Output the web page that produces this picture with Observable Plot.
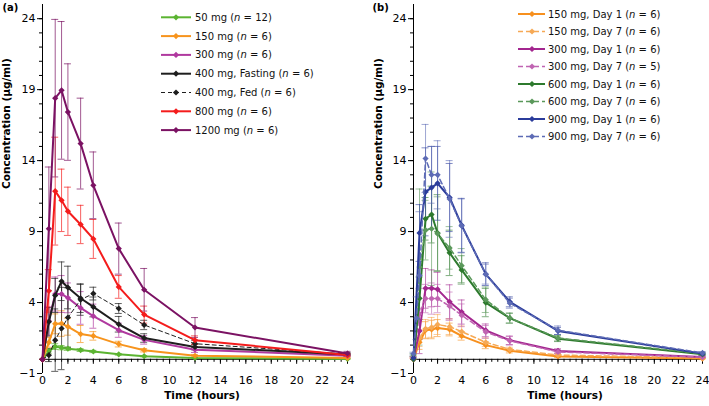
<!DOCTYPE html>
<html><head><meta charset="utf-8">
<script src="https://cdn.jsdelivr.net/npm/d3@7"></script>
<script src="https://cdn.jsdelivr.net/npm/@observablehq/plot@0.6"></script>
<style>
body{margin:0;background:#fff;font-family:"DejaVu Sans",Verdana,sans-serif;}
#wrap{display:flex;width:709px;height:406px;}
.panel{position:relative;}
.legend{position:absolute;left:0;top:0;pointer-events:none;}
</style></head><body>
<div id="wrap"><div class="panel" id="pa"></div><div class="panel" id="pb"></div></div>
<script>
// ---------- Panel (a) data ----------
const timesA = [0, 0.5, 1, 1.5, 2, 3, 4, 6, 8, 12, 24];
const dosesA = ["50 mg", "150 mg", "300 mg", "400 mg, Fasting", "400 mg, Fed", "800 mg", "1200 mg"];
const nA = [12, 6, 6, 6, 6, 6, 6];
const colorsA = ["#5bb431", "#f7941d", "#b0399f", "#1e1e1e", "#1e1e1e", "#f41c1c", "#7b1263"];
const dashA = [false, false, false, false, true, false, false];
const meanA_50 = [0, 0.58, 0.9, 0.82, 0.75, 0.65, 0.55, 0.35, 0.22, 0.1, 0.03];
const sdA_50 = [0, 0.15, 0.2, 0.15, 0.12, 0.1, 0.08, 0.06, 0.05, 0.03, 0.02];
const meanA_150 = [0, 1.2, 2.5, 2.52, 2.3, 1.78, 1.65, 1.07, 0.64, 0.25, 0.1];
const sdA_150 = [0, 0.35, 0.7, 0.9, 0.6, 0.6, 0.3, 0.2, 0.12, 0.08, 0.04];
const meanA_300 = [0, 2.7, 4.6, 4.6, 4.33, 3.62, 3.04, 2.05, 1.37, 0.68, 0.25];
const sdA_300 = [0, 1.0, 1.2, 1.3, 1.05, 1.15, 0.85, 0.5, 0.3, 0.2, 0.1];
const meanA_400fast = [0, 2.64, 4.5, 5.5, 5.06, 4.3, 3.69, 2.47, 1.5, 0.87, 0.34];
const sdA_400fast = [0, 1.0, 1.2, 1.36, 1.5, 1.0, 0.7, 0.55, 0.3, 0.2, 0.1];
const meanA_400fed = [0, 0.29, 1.35, 2.17, 2.94, 4.2, 4.63, 3.58, 2.42, 1.1, 0.36];
const sdA_400fed = [0, 0.45, 2.2, 2.9, 2.1, 1.1, 0.45, 0.35, 0.33, 0.25, 0.1];
const meanA_800 = [0, 4.82, 11.85, 11.2, 10.43, 9.5, 8.48, 5.1, 3.15, 1.35, 0.3];
const sdA_800 = [0, 1.5, 3.8, 2.2, 1.7, 1.35, 1.37, 0.8, 0.6, 0.3, 0.1];
const meanA_1200 = [0, 9.2, 18.4, 18.95, 17.42, 15.2, 12.26, 7.8, 4.9, 2.24, 0.41];
const sdA_1200 = [0, 4.35, 5.55, 4.85, 3.4, 3.2, 2.35, 1.8, 1.5, 0.7, 0.15];
const meansA = [meanA_50, meanA_150, meanA_300, meanA_400fast, meanA_400fed, meanA_800, meanA_1200];
const sdsA = [sdA_50, sdA_150, sdA_300, sdA_400fast, sdA_400fed, sdA_800, sdA_1200];

// ---------- Panel (b) data ----------
const timesB = [0, 0.25, 0.5, 1, 1.5, 2, 3, 4, 6, 8, 12, 24];
const dosesB = ["150 mg, Day 1", "150 mg, Day 7", "300 mg, Day 1", "300 mg, Day 7", "600 mg, Day 1", "600 mg, Day 7", "900 mg, Day 1", "900 mg, Day 7"];
const nB = [6, 6, 6, 5, 6, 6, 6, 6];
const colorsB = ["#f7901e", "#f6a955", "#a3268f", "#c064b2", "#2d7a2d", "#5a985a", "#2b3c9b", "#5d6bb5"];
const dashB = [false, true, false, true, false, true, false, true];
const meanB_150d1 = [0, null, 1.2, 2.05, 2.1, 2.2, 2.1, 1.65, 1.0, 0.6, 0.2, 0.05];
const meanB_150d7 = [0.1, null, 1.5, 2.15, 2.25, 2.45, 2.3, 1.95, 1.2, 0.7, 0.3, 0.1];
const meanB_300d1 = [0, null, 2.0, 5.0, 5.0, 4.93, 4.05, 3.33, 2.04, 1.34, 0.59, 0.17];
const meanB_300d7 = [0.15, null, 3.2, 4.28, 4.28, 4.28, 3.74, 3.1, 1.93, 1.3, 0.52, 0.15];
const meanB_600d1 = [0, null, 4.3, 9.9, 10.2, 8.9, 7.5, 6.3, 4.0, 2.9, 1.45, 0.35];
const meanB_600d7 = [0.3, null, 6.5, 9.1, 9.2, 8.85, 7.85, 6.6, 4.2, 2.9, 1.5, 0.4];
const meanB_900d1 = [0.1, null, 8.9, 11.8, 12.1, 12.4, 11.4, 9.44, 6.0, 4.05, 2.0, 0.4];
const meanB_900d7 = [0.4, 2.9, 5.9, 14.15, 13.0, 13.0, 11.3, 9.4, 6.0, 3.95, 2.05, 0.45];
const sdB_150d1 = [0, null, 0.5, 0.6, 0.65, 0.6, 0.45, 0.3, 0.25, 0.15, 0.08, 0.03];
const sdB_150d7 = [0.05, null, 0.6, 0.65, 0.7, 0.7, 0.55, 0.4, 0.3, 0.15, 0.1, 0.05];
const sdB_300d1 = [0, null, 1.6, 1.4, 1.3, 1.2, 1.2, 0.85, 0.45, 0.3, 0.15, 0.05];
const sdB_300d7 = [0.05, null, 1.8, 1.0, 1.1, 1.0, 1.0, 0.8, 0.45, 0.3, 0.15, 0.05];
const sdB_600d1 = [0, null, 1.5, 1.5, 2.0, 2.7, 1.6, 1.0, 1.0, 0.35, 0.2, 0.08];
const sdB_600d7 = [0.1, null, 5.5, 2.1, 4.0, 2.6, 1.5, 1.2, 0.9, 0.35, 0.2, 0.08];
const sdB_900d1 = [0, null, 2.0, 3.1, 2.9, 2.6, 2.4, 1.9, 0.8, 0.35, 0.25, 0.1];
const sdB_900d7 = [0.1, 1.5, 4.5, 2.4, 2.0, 2.4, 2.7, 1.9, 0.7, 0.35, 0.3, 0.1];
const meansB = [meanB_150d1, meanB_150d7, meanB_300d1, meanB_300d7, meanB_600d1, meanB_600d7, meanB_900d1, meanB_900d7];
const sdsB = [sdB_150d1, sdB_150d7, sdB_300d1, sdB_300d7, sdB_600d1, sdB_600d7, sdB_900d1, sdB_900d7];

// ---------- axis ticks ----------
const yMajor = [-1, 4, 9, 14, 19, 24];
const yMinor = d3.range(-1, 25, 1);
const xMajor = d3.range(0, 25, 2);
const xMinor = d3.range(0, 24.01, 0.5);

function makePanel(cfg) {
  const series = cfg.doses.map((dose, k) => ({
    k, dose, color: cfg.colors[k], dash: cfg.dash[k],
    rows: cfg.times.map((t, j) => ({t, v: cfg.means[k][j], sd: cfg.sds[k][j]})).filter(d => d.v != null)
  }));
  const marks = [
    Plot.ruleY([0], {stroke: "#000", strokeWidth: 1}),
    Plot.ruleX([0], {stroke: "#000", strokeWidth: 1}),
    Plot.axisY({ticks: yMinor, tickSize: 3, tickFormat: () => "", stroke: "#000"}),
    Plot.axisY({ticks: yMajor, tickSize: 5, tickPadding: 2, fontSize: 11, stroke: "#000", fill: "#000"}),
    Plot.ruleX(xMinor, {x: d => d, y1: 0, y2: 0, insetBottom: -3, stroke: "#000"}),
    Plot.ruleX(xMajor, {x: d => d, y1: 0, y2: 0, insetBottom: -5, stroke: "#000"}),
    Plot.axisX({ticks: xMajor, tickSize: 0, tickPadding: 3, fontSize: 11, fill: "#000"})
  ];
  for (const s of series) {
    const eb = s.rows.filter(d => d.sd > 0);
    marks.push(
      Plot.ruleX(eb, {x: "t", y1: d => d.v - d.sd, y2: d => d.v + d.sd, stroke: s.color, strokeOpacity: cfg.ebOpacity, strokeWidth: 1}),
      Plot.ruleY(eb, {y: d => d.v + d.sd, x1: "t", x2: "t", insetLeft: -3.5, insetRight: -3.5, stroke: s.color, strokeOpacity: cfg.ebOpacity}),
      Plot.ruleY(eb, {y: d => d.v - d.sd, x1: "t", x2: "t", insetLeft: -3.5, insetRight: -3.5, stroke: s.color, strokeOpacity: cfg.ebOpacity})
    );
  }
  for (const s of series) {
    marks.push(
      Plot.line(s.rows, {x: "t", y: "v", stroke: s.color,
        strokeWidth: s.dash ? cfg.dashWidth : 2, strokeDasharray: s.dash ? cfg.dashPattern : null}),
      Plot.dot(s.rows, {x: "t", y: "v", symbol: "diamond2", r: 2.8, fill: s.color, stroke: "none"})
    );
  }
  marks.push(
    Plot.text(["Concentration (µg/ml)"], {frameAnchor: "left", dx: cfg.yTitleDx, rotate: -90, fontWeight: "bold", fontSize: 10.5, fill: "#000"}),
    Plot.text(["Time (hours)"], {frameAnchor: "bottom", dy: 25, dx: 7, fontWeight: "bold", fontSize: 10.5, fill: "#000"}),
    Plot.text([cfg.letter], {frameAnchor: "top-left", dx: cfg.letterDx, dy: 3.5, lineAnchor: "middle", textAnchor: "start", fontWeight: "bold", fontSize: 10, fill: "#000"})
  );
  const chart = Plot.plot({
    width: cfg.width, height: 406,
    marginLeft: cfg.marginLeft, marginRight: cfg.marginRight, marginTop: 4, marginBottom: 33,
    x: {domain: [0, 24], label: null},
    y: {domain: [-1, 25], label: null},
    style: {fontFamily: "DejaVu Sans, Verdana, sans-serif", fontSize: "11px", background: "#fff", color: "#000", overflow: "visible"},
    marks
  });
  const host = document.getElementById(cfg.id);
  host.style.width = cfg.width + "px";
  host.appendChild(chart);

  // legend
  const L = cfg.legend;
  const svg = d3.create("svg").attr("class", "legend").attr("width", cfg.width).attr("height", 406)
    .style("font-family", "DejaVu Sans, Verdana, sans-serif").style("font-size", "10px");
  const sym = d3.symbol(d3.symbolDiamond2, Math.PI * 2.8 * 2.8)();
  series.forEach((s, i) => {
    const y = L.y0 + i * L.dy;
    svg.append("line").attr("x1", L.x0).attr("x2", L.x1).attr("y1", y).attr("y2", y)
      .attr("stroke", s.color).attr("stroke-width", s.dash ? cfg.dashWidth : 2)
      .attr("stroke-dasharray", s.dash ? cfg.dashPattern : null);
    svg.append("path").attr("d", sym).attr("transform", `translate(${L.xm},${y})`).attr("fill", s.color);
    const t = svg.append("text").attr("x", L.xt).attr("y", y).attr("dy", "0.35em").attr("fill", "#111");
    t.append("tspan").text(`${s.dose} (`);
    t.append("tspan").attr("font-style", "italic").text("n");
    t.append("tspan").text(` = ${cfg.ns[i]})`);
  });
  host.appendChild(svg.node());
}

makePanel({
  id: "pa", letter: "(a)", width: 355, marginLeft: 42, marginRight: 8,
  times: timesA, doses: dosesA, ns: nA, colors: colorsA, dash: dashA, means: meansA, sds: sdsA,
  ebOpacity: 0.7, dashWidth: 1, dashPattern: "4,3", yTitleDx: -36, letterDx: -40,
  legend: {x0: 161, x1: 191, xm: 176, xt: 195, y0: 17.3, dy: 18.8}
});
makePanel({
  id: "pb", letter: "(b)", width: 354, marginLeft: 58, marginRight: 7,
  times: timesB, doses: dosesB, ns: nB, colors: colorsB, dash: dashB, means: meansB, sds: sdsB,
  ebOpacity: 0.6, dashWidth: 1.5, dashPattern: "5,3", yTitleDx: -34.5, letterDx: -41,
  legend: {x0: 163, x1: 190, xm: 177, xt: 193, y0: 14, dy: 17.5}
});
</script>
</body></html>
